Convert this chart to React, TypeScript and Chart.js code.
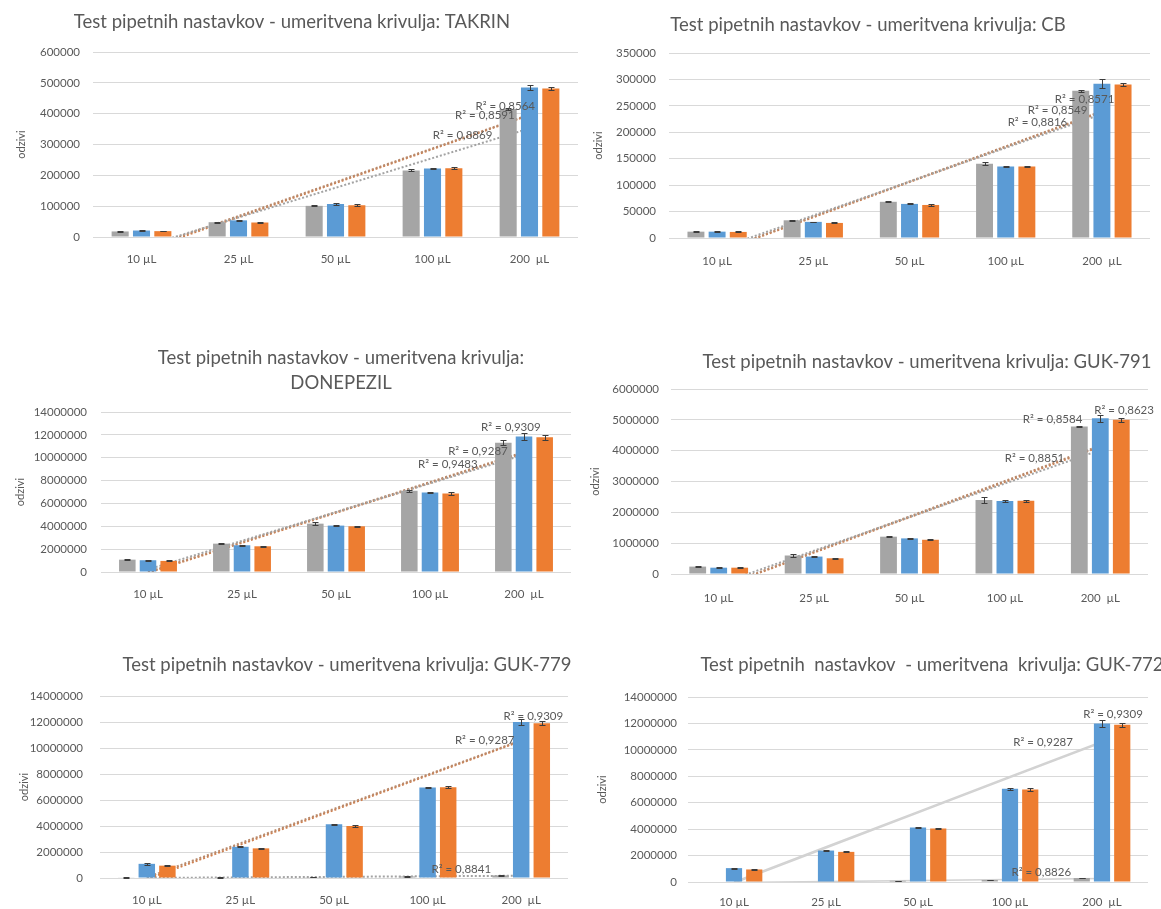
import { useEffect, useRef } from "react";
import { Chart, registerables } from "chart.js";

Chart.register(...registerables);

const FONT_FAMILY = "Lato, 'Noto Sans', sans-serif";
const TEXT_COLOR = "#595959";
const GRID_COLOR = "#d9d9d9";
const BAR_COLORS = ["#a5a5a5", "#5b9bd5", "#ed7d31"];
const TREND_DOTTED = ["#a3a3a3", "#b98a6c", "#cf8050"];
const TREND_SOLID = "#d2d2d2";

const categories = ["10 µL", "25 µL", "50 µL", "100 µL", "200  µL"];
const axisTitle = "odzivi";
const seriesNames = ["serija 1", "serija 2", "serija 3"];

// TAKRIN
const takrinTitle = ["Test pipetnih nastavkov - umeritvena krivulja: TAKRIN"];
const takrinA = [18000, 48000, 101000, 216000, 415000];
const takrinB = [21000, 54000, 107000, 222000, 485000];
const takrinC = [19000, 47000, 103000, 223000, 482000];
const takrinErrA = [1000, 1500, 1500, 3000, 3000];
const takrinErrB = [1000, 1500, 2500, 2500, 8000];
const takrinErrC = [800, 1500, 2500, 2500, 6000];
const takrinR2 = ["R² = 0,8869", "R² = 0,8591", "R² = 0,8564"];
const takrinYMax = 600000;
const takrinYStep = 100000;

// CB
const cbTitle = ["Test pipetnih nastavkov - umeritvena krivulja: CB"];
const cbA = [12000, 33500, 68500, 140500, 278500];
const cbB = [12000, 30500, 64500, 135500, 292000];
const cbC = [11500, 28500, 62500, 135500, 290500];
const cbErrA = [500, 1500, 1000, 3000, 2000];
const cbErrB = [500, 700, 800, 1200, 8000];
const cbErrC = [800, 1000, 1500, 1500, 3500];
const cbR2 = ["R² = 0,8816", "R² = 0,8549", "R² = 0,8571"];
const cbYMax = 350000;
const cbYStep = 50000;

// DONEPEZIL
const donepezilTitle = ["Test pipetnih nastavkov - umeritvena krivulja:", "DONEPEZIL"];
const donepezilA = [1080000, 2480000, 4230000, 7100000, 11320000];
const donepezilB = [1030000, 2340000, 4060000, 6950000, 11850000];
const donepezilC = [970000, 2250000, 4000000, 6870000, 11780000];
const donepezilErrA = [50000, 60000, 120000, 100000, 250000];
const donepezilErrB = [60000, 40000, 60000, 60000, 300000];
const donepezilErrC = [40000, 40000, 50000, 150000, 250000];
const donepezilR2 = ["R² = 0,9483", "R² = 0,9287", "R² = 0,9309"];
const donepezilYMax = 14000000;
const donepezilYStep = 2000000;

// GUK-791
const guk791Title = ["Test pipetnih nastavkov - umeritvena krivulja: GUK-791"];
const guk791A = [240000, 600000, 1210000, 2400000, 4780000];
const guk791B = [205000, 565000, 1155000, 2365000, 5050000];
const guk791C = [205000, 510000, 1110000, 2375000, 5000000];
const guk791ErrA = [20000, 40000, 20000, 90000, 20000];
const guk791ErrB = [10000, 20000, 15000, 20000, 110000];
const guk791ErrC = [15000, 25000, 20000, 30000, 60000];
const guk791R2 = ["R² = 0,8851", "R² = 0,8584", "R² = 0,8623"];
const guk791YMax = 6000000;
const guk791YStep = 1000000;

// GUK-779
const guk779Title = ["Test pipetnih nastavkov - umeritvena krivulja: GUK-779"];
const guk779A = [30000, 40000, 60000, 120000, 200000];
const guk779B = [1090000, 2400000, 4130000, 6960000, 12000000];
const guk779C = [950000, 2280000, 4000000, 6990000, 11900000];
const guk779ErrA = [10000, 10000, 10000, 15000, 20000];
const guk779ErrB = [60000, 40000, 60000, 60000, 250000];
const guk779ErrC = [50000, 40000, 60000, 100000, 150000];
const guk779R2 = ["R² = 0,8841", "R² = 0,9287", "R² = 0,9309"];
const guk779YMax = 14000000;
const guk779YStep = 2000000;

// GUK-772
const guk772Title = ["Test pipetnih  nastavkov  - umeritvena  krivulja: GUK-772"];
const guk772A = [0, 0, 90000, 150000, 300000];
const guk772B = [1050000, 2380000, 4130000, 7050000, 12000000];
const guk772C = [950000, 2280000, 4050000, 7000000, 11900000];
const guk772ErrA = [0, 0, 10000, 20000, 30000];
const guk772ErrB = [40000, 40000, 60000, 60000, 250000];
const guk772ErrC = [40000, 40000, 60000, 120000, 150000];
const guk772R2 = ["R² = 0,8826", "R² = 0,9287", "R² = 0,9309"];
const guk772YMax = 14000000;
const guk772YStep = 2000000;

// Page placement of each panel: canvas frame, plot area, title and label anchors.
type Layout = {
  frame: { x: number; y: number; w: number; h: number };
  plot: { l: number; t: number; r: number; b: number };
  titleX: number;
  titleY: number;
  yTitleX: number;
  tickPad: number;
  xLabelPad: number;
  r2At: [number, number][];
};

const layouts: Record<string, Layout> = {
  takrin: {
    frame: { x: 0, y: 0, w: 580, h: 305 },
    plot: { l: 93, t: 52, r: 578, b: 237 },
    titleX: 292, titleY: 22, yTitleX: 21, tickPad: 13, xLabelPad: 15,
    r2At: [[3.31, 330800], [3.54, 395700], [3.75, 424900]],
  },
  cb: {
    frame: { x: 580, y: 0, w: 581, h: 305 },
    plot: { l: 669, t: 53, r: 1150, b: 238 },
    titleX: 868, titleY: 25, yTitleX: 598, tickPad: 13, xLabelPad: 16,
    r2At: [[3.33, 219500], [3.54, 242200], [3.82, 263000]],
  },
  donepezil: {
    frame: { x: 0, y: 330, w: 580, h: 300 },
    plot: { l: 101, t: 412, r: 571, b: 572 },
    titleX: 341, titleY: 358, yTitleX: 20, tickPad: 14, xLabelPad: 15,
    r2At: [[3.19, 9450000], [3.51, 10590000], [3.86, 12690000]],
  },
  guk791: {
    frame: { x: 580, y: 330, w: 581, h: 300 },
    plot: { l: 671, t: 389, r: 1148, b: 574 },
    titleX: 927, titleY: 362, yTitleX: 595, tickPad: 12, xLabelPad: 17,
    r2At: [[3.31, 3760000], [3.5, 5030000], [4.25, 5320000]],
  },
  guk779: {
    frame: { x: 0, y: 638, w: 580, h: 290 },
    plot: { l: 100, t: 696, r: 568, b: 878 },
    titleX: 347, titleY: 665, yTitleX: 24, tickPad: 17, xLabelPad: 15,
    r2At: [[3.36, 680000], [3.61, 10600000], [4.13, 12460000]],
  },
  guk772: {
    frame: { x: 580, y: 638, w: 581, h: 290 },
    plot: { l: 688, t: 697, r: 1148, b: 882 },
    titleX: 932, titleY: 665, yTitleX: 602, tickPad: 11, xLabelPad: 13,
    r2At: [[3.34, 730000], [3.36, 10550000], [4.12, 12700000]],
  },
};

type PanelSpec = {
  title: string[];
  values: number[][];
  errors: number[][];
  r2: string[];
  yMax: number;
  yStep: number;
  solidTrend: boolean;
  layout: Layout;
};

const panels: PanelSpec[] = [
  { title: takrinTitle, values: [takrinA, takrinB, takrinC], errors: [takrinErrA, takrinErrB, takrinErrC], r2: takrinR2, yMax: takrinYMax, yStep: takrinYStep, solidTrend: false, layout: layouts.takrin },
  { title: cbTitle, values: [cbA, cbB, cbC], errors: [cbErrA, cbErrB, cbErrC], r2: cbR2, yMax: cbYMax, yStep: cbYStep, solidTrend: false, layout: layouts.cb },
  { title: donepezilTitle, values: [donepezilA, donepezilB, donepezilC], errors: [donepezilErrA, donepezilErrB, donepezilErrC], r2: donepezilR2, yMax: donepezilYMax, yStep: donepezilYStep, solidTrend: false, layout: layouts.donepezil },
  { title: guk791Title, values: [guk791A, guk791B, guk791C], errors: [guk791ErrA, guk791ErrB, guk791ErrC], r2: guk791R2, yMax: guk791YMax, yStep: guk791YStep, solidTrend: false, layout: layouts.guk791 },
  { title: guk779Title, values: [guk779A, guk779B, guk779C], errors: [guk779ErrA, guk779ErrB, guk779ErrC], r2: guk779R2, yMax: guk779YMax, yStep: guk779YStep, solidTrend: false, layout: layouts.guk779 },
  { title: guk772Title, values: [guk772A, guk772B, guk772C], errors: [guk772ErrA, guk772ErrB, guk772ErrC], r2: guk772R2, yMax: guk772YMax, yStep: guk772YStep, solidTrend: true, layout: layouts.guk772 },
];

// Least-squares linear trend over the category positions (as a spreadsheet trendline does).
function linearTrend(values: number[]): number[] {
  const n = values.length;
  const mx = (n - 1) / 2;
  const my = values.reduce((s, v) => s + v, 0) / n;
  let sxy = 0;
  let sxx = 0;
  values.forEach((v, i) => {
    sxy += (i - mx) * (v - my);
    sxx += (i - mx) * (i - mx);
  });
  const k = sxy / sxx;
  return values.map((_, i) => my + k * (i - mx));
}

const errorBarPlugin = {
  id: "errorBars",
  afterDatasetsDraw(chart: any) {
    const { ctx } = chart;
    const yScale = chart.scales.y;
    ctx.save();
    ctx.strokeStyle = "#3c3c3c";
    ctx.lineWidth = 1;
    chart.data.datasets.forEach((ds: any, i: number) => {
      if (!ds.errors) return;
      const meta = chart.getDatasetMeta(i);
      meta.data.forEach((bar: any, j: number) => {
        const v = ds.data[j];
        const e = ds.errors[j];
        if (!e || !v) return;
        const x = Math.round(bar.x) + 0.5;
        const top = Math.round(yScale.getPixelForValue(v + e)) + 0.5;
        const bot = Math.round(yScale.getPixelForValue(Math.max(0, v - e))) + 0.5;
        ctx.beginPath();
        ctx.moveTo(x, top);
        ctx.lineTo(x, bot);
        ctx.moveTo(x - 3, top);
        ctx.lineTo(x + 3, top);
        ctx.moveTo(x - 3, bot);
        ctx.lineTo(x + 3, bot);
        ctx.stroke();
      });
    });
    ctx.restore();
  },
};

function ChartPanel({ spec }: { spec: PanelSpec }) {
  const ref = useRef<HTMLCanvasElement>(null);
  const { frame } = spec.layout;

  useEffect(() => {
    const canvas = ref.current;
    if (!canvas) return;
    const L = spec.layout;
    const xAxisH = 40;

    const trendSets = spec.values.map((vals, i) => ({
      type: "line" as const,
      label: seriesNames[i] + " trend",
      data: linearTrend(vals),
      borderColor: spec.solidTrend ? TREND_SOLID : TREND_DOTTED[i],
      borderWidth: spec.solidTrend ? 1.5 : 2,
      borderDash: spec.solidTrend ? [] : [2, 2],
      pointRadius: 0,
      fill: false,
      tension: 0,
      order: 5,
    }));

    const barSets = spec.values.map((vals, i) => ({
      type: "bar" as const,
      label: seriesNames[i],
      data: vals,
      errors: spec.errors[i],
      backgroundColor: BAR_COLORS[i],
      borderWidth: 0,
      categoryPercentage: 0.66,
      barPercentage: 0.8,
      order: 1,
    }));

    const textPlugin = {
      id: "panelText",
      afterDraw(chart: any) {
        const { ctx } = chart;
        const xs = chart.scales.x;
        const ys = chart.scales.y;
        ctx.save();
        ctx.fillStyle = TEXT_COLOR;
        ctx.textAlign = "center";
        ctx.textBaseline = "middle";
        ctx.font = `18.5px ${FONT_FAMILY}`;
        spec.title.forEach((line, i) => {
          ctx.fillText(line, L.titleX - L.frame.x, L.titleY - L.frame.y + i * 25);
        });
        ctx.font = `11.5px ${FONT_FAMILY}`;
        spec.r2.forEach((text, i) => {
          const [cx, cy] = L.r2At[i];
          ctx.fillText(text, xs.getPixelForValue(cx), ys.getPixelForValue(cy));
        });
        ctx.restore();
      },
    };

    const chart = new Chart(canvas, {
      type: "bar",
      data: { labels: categories, datasets: [...trendSets, ...barSets] as any },
      options: {
        responsive: false,
        animation: false,
        devicePixelRatio: 1,
        layout: {
          padding: {
            left: 0,
            top: L.plot.t - L.frame.y,
            right: L.frame.w - (L.plot.r - L.frame.x),
            bottom: Math.max(0, L.frame.h - (L.plot.b - L.frame.y) - xAxisH),
          },
        },
        plugins: {
          legend: { display: false },
          title: { display: false },
          tooltip: { enabled: false },
        },
        scales: {
          x: {
            grid: { display: false, drawTicks: false },
            border: { display: false },
            ticks: {
              color: TEXT_COLOR,
              font: { family: FONT_FAMILY, size: 11.5 },
              padding: L.xLabelPad,
              maxRotation: 0,
              autoSkip: false,
            },
            afterFit: (s: any) => {
              s.height = xAxisH;
            },
          },
          y: {
            min: 0,
            max: spec.yMax,
            grid: { color: GRID_COLOR, drawTicks: false, lineWidth: 1 },
            border: { display: false },
            ticks: {
              stepSize: spec.yStep,
              color: TEXT_COLOR,
              font: { family: FONT_FAMILY, size: 11.5 },
              padding: L.tickPad,
              callback: (v: any) => String(v),
            },
            title: {
              display: true,
              text: axisTitle,
              color: TEXT_COLOR,
              font: { family: FONT_FAMILY, size: 11 },
              padding: { top: L.yTitleX - L.frame.x - 6.6, bottom: 0 },
            },
            afterFit: (s: any) => {
              s.width = L.plot.l - L.frame.x;
            },
          },
        },
      },
      plugins: [errorBarPlugin, textPlugin],
    });
    return () => chart.destroy();
  }, [spec]);

  return (
    <canvas
      ref={ref}
      width={frame.w}
      height={frame.h}
      style={{ position: "absolute", left: frame.x, top: frame.y, width: frame.w, height: frame.h }}
    />
  );
}

export default function App() {
  return (
    <div style={{ position: "absolute", left: 0, top: 0, width: 1161, height: 909, background: "#ffffff", overflow: "hidden" }}>
      {panels.map((p, i) => (
        <ChartPanel key={i} spec={p} />
      ))}
    </div>
  );
}
